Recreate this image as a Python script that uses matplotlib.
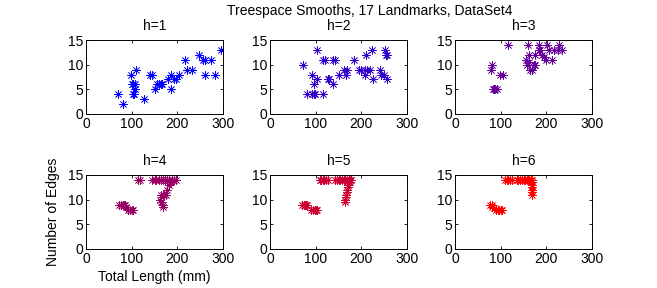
import numpy as np
import matplotlib
matplotlib.use('Agg')
import matplotlib.pyplot as plt

plt.rcParams['font.family'] = ['Liberation Sans', 'DejaVu Sans']

# (total length, number of edges) for each smoothing level h
h1_x = [69, 80, 99, 110, 101, 104, 108, 103, 106, 108, 127, 140, 145, 151, 156, 160, 165, 166,
        180, 186, 186, 193, 197, 204, 217, 221, 232, 248, 256, 260, 261, 273, 283, 296]
h1_y = [4, 2, 8, 9, 6, 6, 6, 4, 4, 5, 3, 8, 8, 5, 6, 6, 6, 6,
        7, 8, 5, 7, 7, 8, 11, 9, 9, 12, 11, 11, 8, 11, 8, 13]

h2_x = [73, 104, 91, 104, 96, 80, 91, 96, 99, 117, 115, 121, 128, 130, 137, 137, 142, 152,
        162, 167, 168, 185, 195, 199, 208, 212, 208, 211, 223, 225, 219, 240, 243, 250,
        252, 255, 257, 257]
h2_y = [10, 13, 8, 7, 6, 4, 4, 4, 4, 4, 11, 11, 7, 7, 6, 11, 11, 8,
        9, 8, 9, 11, 9, 9, 9, 9, 8, 12, 13, 7, 9, 9, 8, 8,
        13, 12, 12, 7]

h3_x = [117, 80, 78, 83, 86, 88, 93, 99, 105, 159, 161, 156, 157, 161, 165, 168, 172, 176,
        183, 183, 186, 176, 190, 195, 201, 205, 200, 212, 216, 225, 227, 234]
h3_y = [14, 10, 9, 5, 5, 5, 5, 8, 8, 14, 12, 11, 10, 10.5, 9, 9, 10, 10,
        14, 13, 13, 12, 12, 11.5, 14, 13, 11, 11, 13, 13, 14, 13]

h4_x = [72, 77, 80, 83, 86, 88, 92, 96, 100, 103, 113, 119, 145, 150, 153, 160, 164, 168, 172,
        177, 182, 189, 193, 197, 186, 182, 178, 164, 168, 171, 175, 162, 164, 168, 168]
h4_y = [9, 9, 9, 9, 9, 8.6, 8, 8, 8, 8, 14, 14, 14, 14, 14, 14, 14, 14, 14,
        14, 14, 14, 14, 14, 13.5, 13, 12, 11, 11, 11, 11, 10, 9.5, 9, 8.5]

h5_x = [71, 74, 76, 79, 81, 90, 94, 98, 101, 103, 109, 112, 116, 119, 122, 127, 142, 146, 150,
        154, 158, 162, 165, 169, 172, 175, 178, 175, 171, 170, 169, 168, 167, 166, 165, 165]
h5_y = [9, 9, 9, 9, 9, 8, 8, 8, 8, 8, 14, 14, 14, 14, 14, 14, 14, 14, 14,
        14, 14, 14, 14, 14, 14, 14, 14, 13.5, 13, 12.5, 12, 11.5, 11, 10.5, 10, 9.5]

h6_x = [77, 80, 82, 86, 90, 94, 97, 101, 104, 110, 114, 117, 121, 124, 135, 139, 142, 146, 150,
        154, 157, 160, 163, 166, 168, 168, 168, 168, 168, 168, 168]
h6_y = [9, 9, 8.6, 8.3, 8, 8, 8, 8, 8, 14, 14, 14, 14, 14, 14, 14, 14, 14, 14,
        14, 14, 14, 14, 14, 14, 13.5, 13, 12.5, 12, 11.5, 11]

xs = [h1_x, h2_x, h3_x, h4_x, h5_x, h6_x]
ys = [h1_y, h2_y, h3_y, h4_y, h5_y, h6_y]
titles = ['h=1', 'h=2', 'h=3', 'h=4', 'h=5', 'h=6']

fig = plt.figure(figsize=(6.57, 2.88), dpi=100)
W, H = 657, 288
lefts = [86, 270, 455]
tops = [40, 175]
aw, ah = 137, 74

for i in range(6):
    r, c = divmod(i, 3)
    ax = fig.add_axes([lefts[c] / W, 1 - (tops[r] + ah) / H, aw / W, ah / H])
    t = i / 5
    col = (t, 0, 1 - t)
    ax.plot(xs[i], ys[i], linestyle='none', marker=(8, 2, 0), markersize=6,
            markeredgewidth=0.5, color=col)
    ax.set_xlim(0, 300)
    ax.set_ylim(0, 15)
    ax.set_xticks([0, 100, 200, 300])
    ax.set_yticks([0, 5, 10, 15])
    ax.tick_params(direction='in', length=2.5, width=0.6, top=True, right=True,
                   labelsize=10, pad=2)
    for s in ax.spines.values():
        s.set_linewidth(0.7)
    ax.set_title(titles[i], fontsize=10, pad=7)
    if i == 3:
        ax.set_ylabel('Number of Edges', fontsize=10, labelpad=6)
        ax.set_xlabel('Total Length (mm)', fontsize=10, labelpad=3)

fig.text(370 / W, 1 - 11 / H, 'Treespace Smooths, 17 Landmarks, DataSet4',
         ha='center', va='center', fontsize=10)

fig.savefig('out.png', dpi=100)
